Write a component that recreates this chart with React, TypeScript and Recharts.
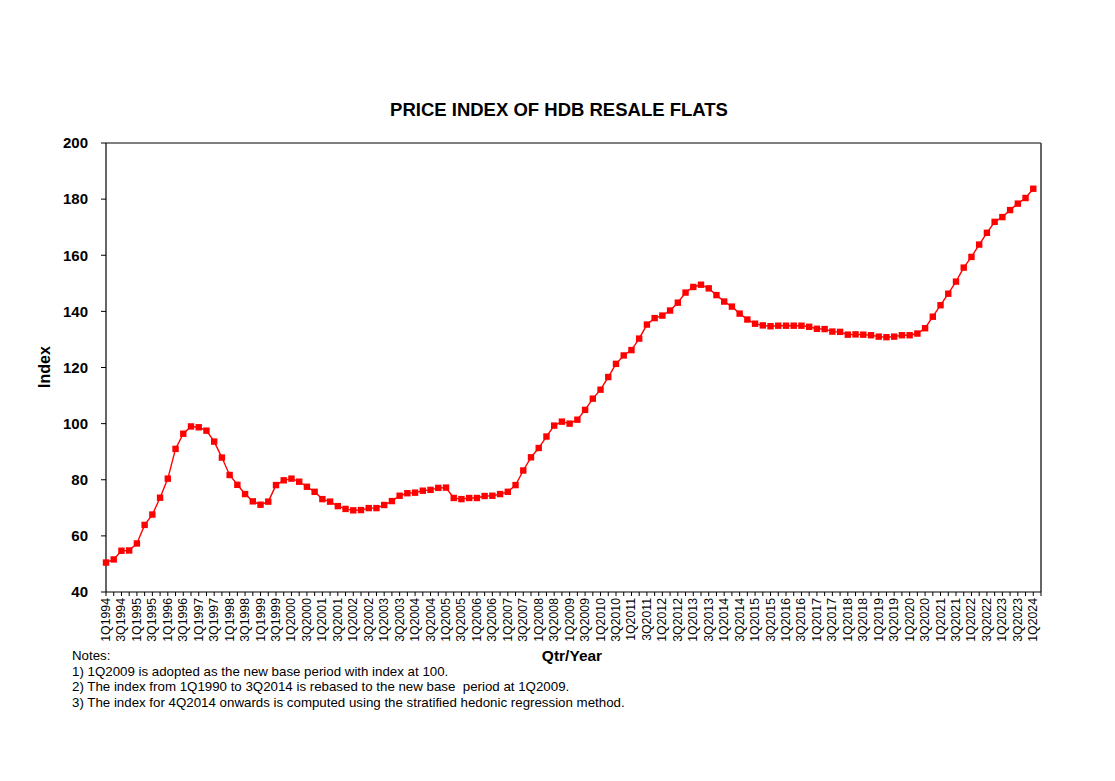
import React from "react";
import { LineChart, Line, XAxis, YAxis, ReferenceLine } from "recharts";

const FONT = "'Liberation Sans', Arial, Helvetica, sans-serif";

const quarterLabels: string[] = [];
for (let y = 1994; y <= 2024; y++) {
  for (let q = 1; q <= 4; q++) {
    quarterLabels.push(`${q}Q${y}`);
  }
}
// keep up to 2Q2024 (last category is an empty slot at the axis end)
const categories = quarterLabels.slice(0, 122);

const values1994to2001 = [
  50.5, 51.6, 54.7, 54.8,
  57.3, 63.9, 67.6, 73.6,
  80.4, 91.0, 96.4, 99.0,
  98.7, 97.5, 93.6, 87.9,
  81.7, 78.2, 74.9, 72.3,
  71.1, 72.2, 78.1, 79.8,
  80.4, 79.3, 77.5, 75.7,
  73.1, 72.2, 70.6, 69.6,
];
const values2002to2008 = [
  69.1, 69.2, 69.9, 69.9,
  71.0, 72.4, 74.3, 75.2,
  75.4, 76.1, 76.4, 77.1,
  77.2, 73.5, 73.1, 73.5,
  73.5, 74.2, 74.3, 74.9,
  75.7, 78.1, 83.3, 88.0,
  91.3, 95.4, 99.3, 100.7,
];
const values2009to2016 = [
  100.0, 101.4, 104.9, 108.9,
  112.1, 116.6, 121.3, 124.3,
  126.2, 130.3, 135.3, 137.6,
  138.5, 140.3, 143.1, 146.7,
  148.7, 149.5, 148.2, 145.8,
  143.5, 141.7, 139.2, 137.1,
  135.6, 135.0, 134.7, 134.9,
  134.9, 134.9, 134.9, 134.5,
];
const values2017to2024 = [
  133.8, 133.7, 132.8, 132.7,
  131.7, 131.8, 131.7, 131.5,
  131.0, 130.8, 131.0, 131.5,
  131.5, 132.1, 134.0, 138.1,
  142.2, 146.3, 150.6, 155.6,
  159.4, 163.8, 168.0, 171.9,
  173.6, 176.1, 178.4, 180.4,
  183.7,
];
const indexValues = [
  ...values1994to2001,
  ...values2002to2008,
  ...values2009to2016,
  ...values2017to2024,
];

const yTicks = [40, 60, 80, 100, 120, 140, 160, 180, 200];

const notes = [
  "Notes:",
  "1) 1Q2009 is adopted as the new base period with index at 100.",
  "2) The index from 1Q1990 to 3Q2014 is rebased to the new base  period at 1Q2009.",
  "3) The index for 4Q2014 onwards is computed using the stratified hedonic regression method.",
];

const data = categories.map((q, i) => ({
  q,
  v: i < indexValues.length ? indexValues[i] : null,
}));

const SquareDot = (props: any) => {
  const { cx, cy, value } = props;
  if (value == null || cx == null || cy == null) return null;
  return <rect x={cx - 3.2} y={cy - 3.2} width={6.4} height={6.4} fill="#ff0000" />;
};

const XTick = (props: any) => {
  const { x, y, payload } = props;
  const label: string = payload?.value ?? "";
  const last = categories[categories.length - 1];
  if (!(label.startsWith("1Q") || label.startsWith("3Q")) || label === last) return null;
  return (
    <text
      x={x}
      y={y}
      transform={`rotate(-90 ${x} ${y})`}
      textAnchor="end"
      dominantBaseline="central"
      fontSize={12.3}
      fontFamily={FONT}
      fill="#000"
    >
      {label}
    </text>
  );
};

export default function App() {
  return (
    <div
      style={{
        position: "absolute",
        left: 0,
        top: 0,
        width: 1115,
        height: 781,
        background: "#fff",
        fontFamily: FONT,
      }}
    >
      <div
        style={{
          position: "absolute",
          left: 0,
          width: 1118,
          top: 99,
          textAlign: "center",
          fontSize: 18.5,
          fontWeight: "bold",
          lineHeight: "22px",
          color: "#000",
        }}
      >
        PRICE INDEX OF HDB RESALE FLATS
      </div>
      <LineChart
        width={1115}
        height={781}
        data={data}
        margin={{ top: 143, right: 74, bottom: 129, left: 46 }}
      >
        <XAxis
          dataKey="q"
          interval={0}
          tick={<XTick />}
          tickSize={4}
          tickMargin={2}
          height={60}
          axisLine={{ stroke: "#000", strokeWidth: 1.2 }}
          tickLine={{ stroke: "#000" }}
        />
        <YAxis
          domain={[40, 200]}
          ticks={yTicks}
          interval={0}
          width={60}
          tickSize={5}
          tickMargin={13}
          axisLine={{ stroke: "#000", strokeWidth: 1.2 }}
          tickLine={{ stroke: "#000" }}
          tick={{ fill: "#000", fontSize: 15, fontWeight: "bold", fontFamily: FONT }}
        />
        <ReferenceLine y={200} stroke="#000" strokeWidth={1.2} />
        <ReferenceLine x={categories[categories.length - 1]} stroke="#555" strokeWidth={1.8} />
        <Line
          type="linear"
          dataKey="v"
          stroke="#ff0000"
          strokeWidth={1.4}
          dot={<SquareDot />}
          activeDot={false}
          isAnimationActive={false}
        />
      </LineChart>
      <div
        style={{
          position: "absolute",
          left: 45,
          top: 367,
          transform: "translate(-50%, -50%) rotate(-90deg)",
          fontSize: 16,
          fontWeight: "bold",
          whiteSpace: "nowrap",
          color: "#000",
        }}
      >
        Index
      </div>
      <div
        style={{
          position: "absolute",
          left: 572,
          top: 656,
          transform: "translate(-50%, -50%)",
          fontSize: 15.5,
          fontWeight: "bold",
          whiteSpace: "nowrap",
          color: "#000",
        }}
      >
        Qtr/Year
      </div>
      <div
        style={{
          position: "absolute",
          left: 72,
          top: 648,
          fontSize: 13.3,
          lineHeight: "15.7px",
          color: "#000",
          whiteSpace: "pre",
        }}
      >
        {notes.map((n, i) => (
          <div key={i}>{n}</div>
        ))}
      </div>
    </div>
  );
}
